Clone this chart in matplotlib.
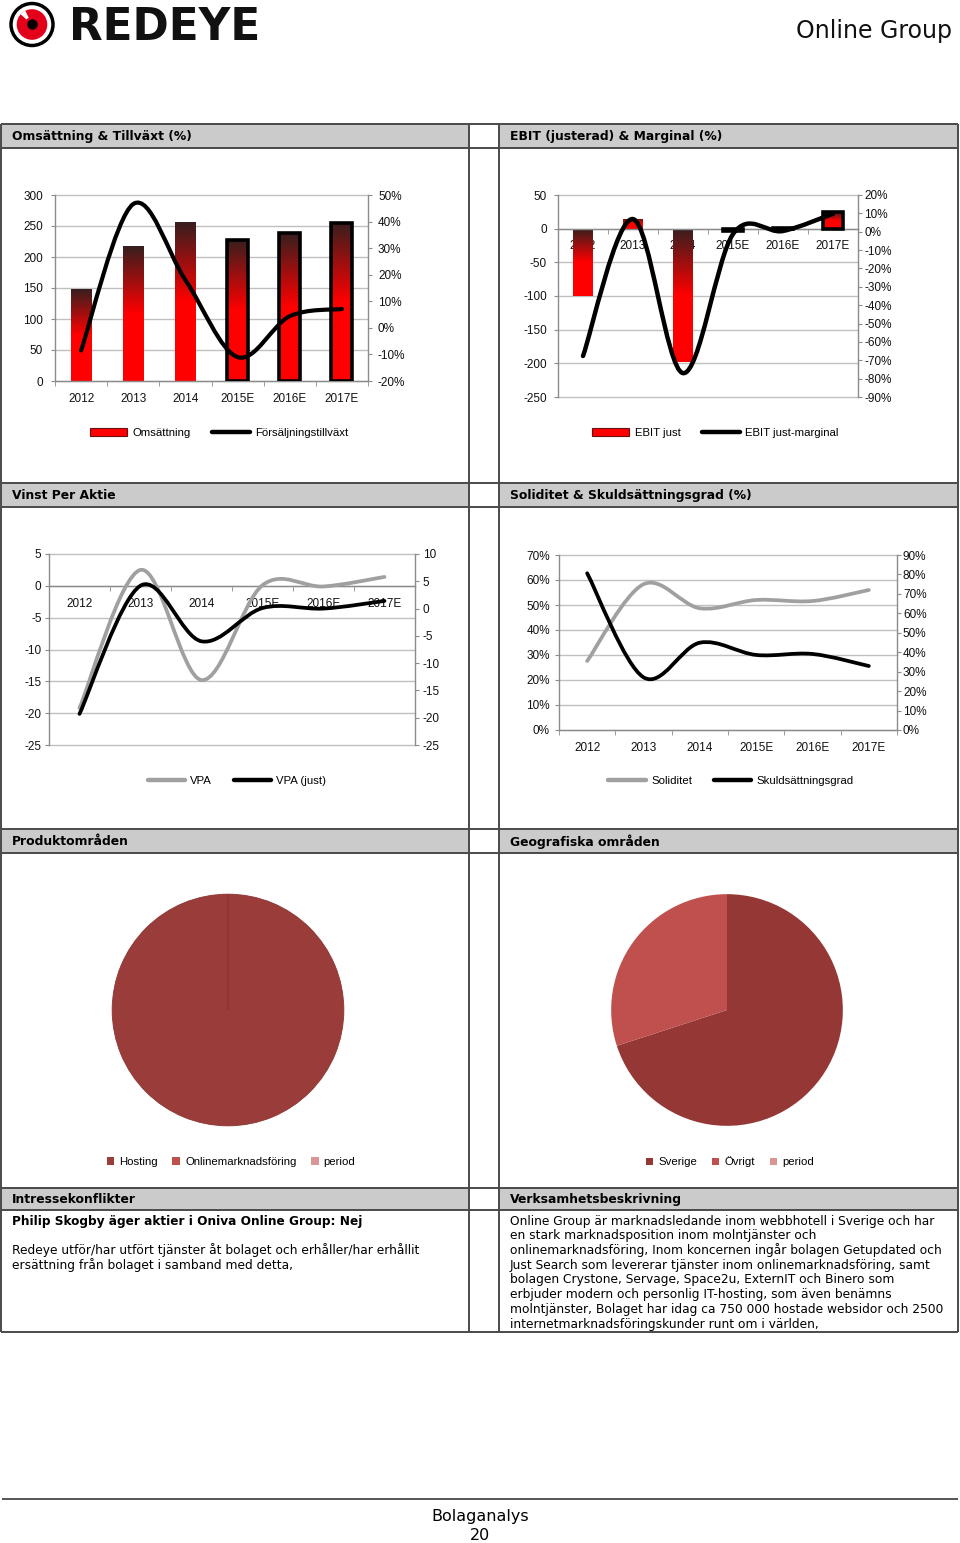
import numpy as np
import matplotlib
matplotlib.use("Agg")
import matplotlib.pyplot as plt
from matplotlib.path import Path
from matplotlib.patches import PathPatch, Rectangle, Circle, Wedge, Patch
from matplotlib.lines import Line2D
from matplotlib.ticker import FuncFormatter

plt.rcParams["font.family"] = ["Liberation Sans", "DejaVu Sans"]
plt.rcParams["axes.unicode_minus"] = False

W, H = 960, 1543

YEARS = ["2012", "2013", "2014", "2015E", "2016E", "2017E"]

OMSATTNING = [148, 217, 256, 228, 238, 255]
TILLVAXT = [-0.085, 0.466, 0.18, -0.11, 0.044, 0.071]

EBIT = [-100, 15, -198, -3, 1, 25]
EBIT_MARGINAL = [-0.677, 0.069, -0.77, -0.013, 0.004, 0.098]

VPA = [-19.2, 2.5, -14.8, 0.1, -0.1, 1.4]
VPA_JUST = [-19.3, 4.2, -6.0, 0.1, 0.0, 1.4]

SOLIDITET = [0.276, 0.583, 0.487, 0.52, 0.516, 0.56]
SKULDSATTNING = [0.806, 0.271, 0.449, 0.386, 0.391, 0.329]

PRODUKT_LABELS = ["Hosting", "Onlinemarknadsföring", "period"]
PRODUKT_VALUES = [100, 0, 0]
GEO_LABELS = ["Sverige", "Övrigt", "period"]
GEO_VALUES = [70, 30, 0]

ESTIMATE_FROM = 3  # 2015E onwards drawn with black outline

INTRESSE_BOLD = "Philip Skogby äger aktier i Oniva Online Group: Nej"
INTRESSE_TEXT = [
    "Redeye utför/har utfört tjänster åt bolaget och erhåller/har erhållit",
    "ersättning från bolaget i samband med detta,",
]
VERKSAMHET_TEXT = [
    "Online Group är marknadsledande inom webbhotell i Sverige och har",
    "en stark marknadsposition inom molntjänster och",
    "onlinemarknadsföring, Inom koncernen ingår bolagen Getupdated och",
    "Just Search som levererar tjänster inom onlinemarknadsföring, samt",
    "bolagen Crystone, Servage, Space2u, ExternIT och Binero som",
    "erbjuder modern och personlig IT-hosting, som även benämns",
    "molntjänster, Bolaget har idag ca 750 000 hostade websidor och 2500",
    "internetmarknadsföringskunder runt om i världen,",
]

AXIS_GRAY = "#8c8c8c"
GRID_GRAY = "#c0c0c0"
LINE_GRAY = "#a0a0a0"
BORDER = "#4a4a4a"
HEADER_BG = "#cbcbcb"
PAGE_FONT = "DejaVu Sans"

fig = plt.figure(figsize=(W / 100, H / 100), dpi=100)

bg = fig.add_axes([0, 0, 1, 1])
bg.set_xlim(0, W)
bg.set_ylim(H, 0)
bg.axis("off")


def px_axes(x0, y0, x1, y1):
    return fig.add_axes([x0 / W, 1 - y1 / H, (x1 - x0) / W, (y1 - y0) / H])


def smooth_path(xs, ys):
    # excel style smoothed line: cubic bezier through the points
    pts = np.column_stack([xs, ys]).astype(float)
    n = len(pts)
    verts = [pts[0]]
    codes = [Path.MOVETO]
    for i in range(n - 1):
        p0 = pts[i - 1] if i > 0 else pts[i]
        p1 = pts[i]
        p2 = pts[i + 1]
        p3 = pts[i + 2] if i + 2 < n else pts[i + 1]
        verts += [p1 + (p2 - p0) / 6, p2 - (p3 - p1) / 6, p2]
        codes += [Path.CURVE4] * 3
    return Path(verts, codes)


def smooth_line(ax, ys, color, lw):
    patch = PathPatch(smooth_path(np.arange(len(ys)), ys), fill=False,
                      edgecolor=color, lw=lw, capstyle="round",
                      joinstyle="round", zorder=5)
    ax.add_patch(patch)


def gradient_bars(ax, values, width=0.4):
    bars = ax.bar(range(len(values)), values, width=width, color="none",
                  edgecolor="none", zorder=2)
    t = np.linspace(0, 1, 120)
    k = np.clip(t / 0.5, 0, 1)[:, None]
    dark = np.array([0.22, 0.12, 0.12])
    red = np.array([1.0, 0.0, 0.0])
    grad = (dark + (red - dark) * k)[:, None, :]
    for i, (b, v) in enumerate(zip(bars, values)):
        top, bot = max(v, 0), min(v, 0)
        im = ax.imshow(grad, extent=(i - width / 2, i + width / 2, bot, top),
                       aspect="auto", interpolation="bilinear", zorder=2)
        im.set_clip_path(b)
        if i >= ESTIMATE_FROM:
            b.set_edgecolor("black")
            b.set_linewidth(2.6)
            b.set_zorder(3)
    return bars


def pct(v, pos):
    return f"{int(round(v * 100))}%"


def style_chart(ax, ax2, lpad, rpad):
    ax.set_xlim(-0.5, len(YEARS) - 0.5)
    for s in ["top", "right"]:
        ax.spines[s].set_visible(False)
    for s in ["top", "left", "bottom"]:
        ax2.spines[s].set_visible(False)
    for sp in [ax.spines["left"], ax.spines["bottom"], ax2.spines["right"]]:
        sp.set_color(AXIS_GRAY)
        sp.set_linewidth(1.0)
    ax.set_xticks(range(len(YEARS)))
    ax.set_xticklabels(YEARS)
    ax.set_xticks(np.arange(-0.5, len(YEARS), 1), minor=True)
    ax.tick_params(axis="x", which="major", length=0, pad=8.5,
                   labelsize=8.5, labelcolor="#111111")
    ax.tick_params(axis="x", which="minor", length=3.5, direction="out",
                   color=AXIS_GRAY)
    ax.tick_params(axis="y", length=3, direction="out", color=AXIS_GRAY,
                   labelsize=8.5, labelcolor="#111111", pad=lpad)
    ax2.tick_params(axis="y", length=3, direction="out", color=AXIS_GRAY,
                    labelsize=8.5, labelcolor="#111111", pad=rpad)
    ax.grid(axis="y", color=GRID_GRAY, lw=1.0)
    for gl in ax.get_ygridlines():
        gl.set_clip_on(False)
    ax.set_axisbelow(True)
    ax.patch.set_alpha(0)


# ---------------- page frame ----------------
rows = [(124, 148), (483, 507), (829, 853), (1188, 1210)]
for y0, y1 in rows:
    bg.add_patch(Rectangle((1, y0), 468, y1 - y0, fc=HEADER_BG, ec="none"))
    bg.add_patch(Rectangle((499, y0), 459, y1 - y0, fc=HEADER_BG, ec="none"))
for y in [124, 148, 483, 507, 829, 853, 1188, 1210, 1332]:
    bg.plot([1, 958], [y, y], color=BORDER, lw=1.4, solid_capstyle="butt")
for x in [1, 469, 499, 958]:
    bg.plot([x, x], [124, 1332], color=BORDER, lw=1.4, solid_capstyle="butt")

titles = [
    ("Omsättning & Tillväxt (%)", "EBIT (justerad) & Marginal (%)"),
    ("Vinst Per Aktie", "Soliditet & Skuldsättningsgrad (%)"),
    ("Produktområden", "Geografiska områden"),
    ("Intressekonflikter", "Verksamhetsbeskrivning"),
]
for (y0, y1), (lt, rt) in zip(rows, titles):
    bg.text(12, (y0 + y1) / 2 + 0.5, lt, va="center", ha="left", fontsize=8.9,
            fontweight="bold", family=PAGE_FONT)
    bg.text(510, (y0 + y1) / 2 + 0.5, rt, va="center", ha="left", fontsize=8.9,
            fontweight="bold", family=PAGE_FONT)

# logo
bg.add_patch(Circle((32, 24.5), 21, fc="white", ec="black", lw=2.5))
bg.add_patch(Circle((32, 24.5), 15.3, fc="#e2001a", ec="none"))
bg.add_patch(Wedge((32, 24.5), 15.5, 222, 244, width=8, fc="white", ec="none"))
bg.add_patch(Circle((32.5, 24.5), 5.2, fc="black", ec="none"))
bg.text(69, 27, "REDEYE", fontsize=31.5, fontweight="bold", va="center",
        ha="left", family=PAGE_FONT, color="#111111")
bg.text(952, 31, "Online Group", fontsize=17, va="center", ha="right",
        family=PAGE_FONT, color="#111111")

# footer
bg.plot([3, 957], [1499, 1499], color="#555555", lw=1.4)
bg.text(480, 1516, "Bolaganalys", ha="center", va="center", fontsize=11.5,
        family=PAGE_FONT)
bg.text(480, 1535, "20", ha="center", va="center", fontsize=11.5,
        family=PAGE_FONT)

# ---------------- chart 1: Omsättning & Tillväxt ----------------
ax = px_axes(55, 195, 368, 381)
ax2 = ax.twinx()
gradient_bars(ax, OMSATTNING)
smooth_line(ax2, TILLVAXT, "black", 3.0)
ax.set_ylim(0, 300)
ax.set_yticks(range(0, 301, 50))
ax2.set_ylim(-0.2, 0.5)
ax2.set_yticks(np.arange(-0.2, 0.51, 0.1))
ax2.yaxis.set_major_formatter(FuncFormatter(pct))
style_chart(ax, ax2, 5.6, 4.2)

# ---------------- chart 2: EBIT & Marginal ----------------
ax = px_axes(558, 195, 858, 397)
ax2 = ax.twinx()
gradient_bars(ax, EBIT)
smooth_line(ax2, EBIT_MARGINAL, "black", 3.2)
ax.set_ylim(-250, 50)
ax.set_yticks(range(-250, 51, 50))
ax2.set_ylim(-0.9, 0.2)
ax2.set_yticks(np.arange(-0.9, 0.21, 0.1))
ax2.yaxis.set_major_formatter(FuncFormatter(pct))
style_chart(ax, ax2, 4.9, 1.5)
ax.spines["bottom"].set_position(("data", 0))

# ---------------- chart 3: Vinst per aktie ----------------
ax = px_axes(49, 554, 415, 745)
ax2 = ax.twinx()
smooth_line(ax, VPA, LINE_GRAY, 2.7)
smooth_line(ax2, VPA_JUST, "black", 2.7)
ax.set_ylim(-25, 5)
ax.set_yticks(range(-25, 6, 5))
ax2.set_ylim(-25, 10)
ax2.set_yticks(range(-25, 11, 5))
style_chart(ax, ax2, 2.4, 2.7)
ax.spines["bottom"].set_position(("data", 0))

# ---------------- chart 4: Soliditet & Skuldsättningsgrad ----------------
ax = px_axes(559, 555, 897, 730)
ax2 = ax.twinx()
smooth_line(ax, SOLIDITET, LINE_GRAY, 2.7)
smooth_line(ax2, SKULDSATTNING, "black", 2.7)
ax.set_ylim(0, 0.7)
ax.set_yticks(np.arange(0, 0.71, 0.1))
ax.yaxis.set_major_formatter(FuncFormatter(pct))
ax2.set_ylim(0, 0.9)
ax2.set_yticks(np.arange(0, 0.91, 0.1))
ax2.yaxis.set_major_formatter(FuncFormatter(pct))
style_chart(ax, ax2, 3.5, 1.3)

# ---------------- line chart legends ----------------
red_patch = Patch(facecolor="#ff0000", edgecolor="#6a1010", lw=0.8)
black_line = Line2D([], [], color="black", lw=3.2, solid_capstyle="round")
gray_line = Line2D([], [], color=LINE_GRAY, lw=3.2, solid_capstyle="round")

legend_kw = dict(loc="center", bbox_transform=bg.transData, ncol=3,
                 frameon=False, handlelength=3.3, handletextpad=0.45,
                 columnspacing=1.9, prop={"size": 8.2, "family": "Liberation Sans"},
                 borderpad=0, borderaxespad=0)
fig.legend([red_patch, black_line], ["Omsättning", "Försäljningstillväxt"],
           bbox_to_anchor=(219, 433), **legend_kw)
fig.legend([red_patch, black_line], ["EBIT just", "EBIT just-marginal"],
           bbox_to_anchor=(715, 433), **legend_kw)
fig.legend([gray_line, black_line], ["VPA", "VPA (just)"],
           bbox_to_anchor=(237, 781), **legend_kw)
fig.legend([gray_line, black_line], ["Soliditet", "Skuldsättningsgrad"],
           bbox_to_anchor=(731, 781), **legend_kw)

# ---------------- pies ----------------
produkt_colors = ["#9a3d3a", "#c0504d", "#d99694"]
geo_colors = ["#953735", "#c0504d", "#d99694"]

pax = px_axes(111, 893, 345, 1127)
pax.pie(PRODUKT_VALUES, colors=produkt_colors, startangle=90, counterclock=False,
        radius=1, wedgeprops=dict(edgecolor="#8a3431", lw=0.6))
pax.set_xlim(-1.01, 1.01)
pax.set_ylim(-1.01, 1.01)

gax = px_axes(610, 893, 844, 1127)
gax.pie(GEO_VALUES, colors=geo_colors, startangle=90, counterclock=False,
        radius=1, wedgeprops=dict(edgecolor="none"))
gax.set_xlim(-1.01, 1.01)
gax.set_ylim(-1.01, 1.01)

pie_kw = dict(loc="center", bbox_transform=bg.transData, ncol=3, frameon=False,
              handlelength=0.65, handleheight=0.65, handletextpad=0.45,
              columnspacing=1.3, prop={"size": 8.2, "family": "Liberation Sans"},
              borderpad=0, borderaxespad=0)
fig.legend([Patch(fc=c, ec="none") for c in produkt_colors], PRODUKT_LABELS,
           bbox_to_anchor=(231, 1162), **pie_kw)
fig.legend([Patch(fc=c, ec="none") for c in geo_colors], GEO_LABELS,
           bbox_to_anchor=(730, 1162), **pie_kw)

# ---------------- text boxes ----------------
bg.text(12, 1221, INTRESSE_BOLD, va="center", ha="left", fontsize=8.7,
        fontweight="bold", family=PAGE_FONT)
for i, line in enumerate(INTRESSE_TEXT):
    bg.text(12, 1250 + i * 14.8, line, va="center", ha="left", fontsize=8.85,
            family=PAGE_FONT)
for i, line in enumerate(VERKSAMHET_TEXT):
    bg.text(510, 1221 + i * 14.75, line, va="center", ha="left", fontsize=8.83,
            family=PAGE_FONT)

fig.savefig("out.png", dpi=100)
